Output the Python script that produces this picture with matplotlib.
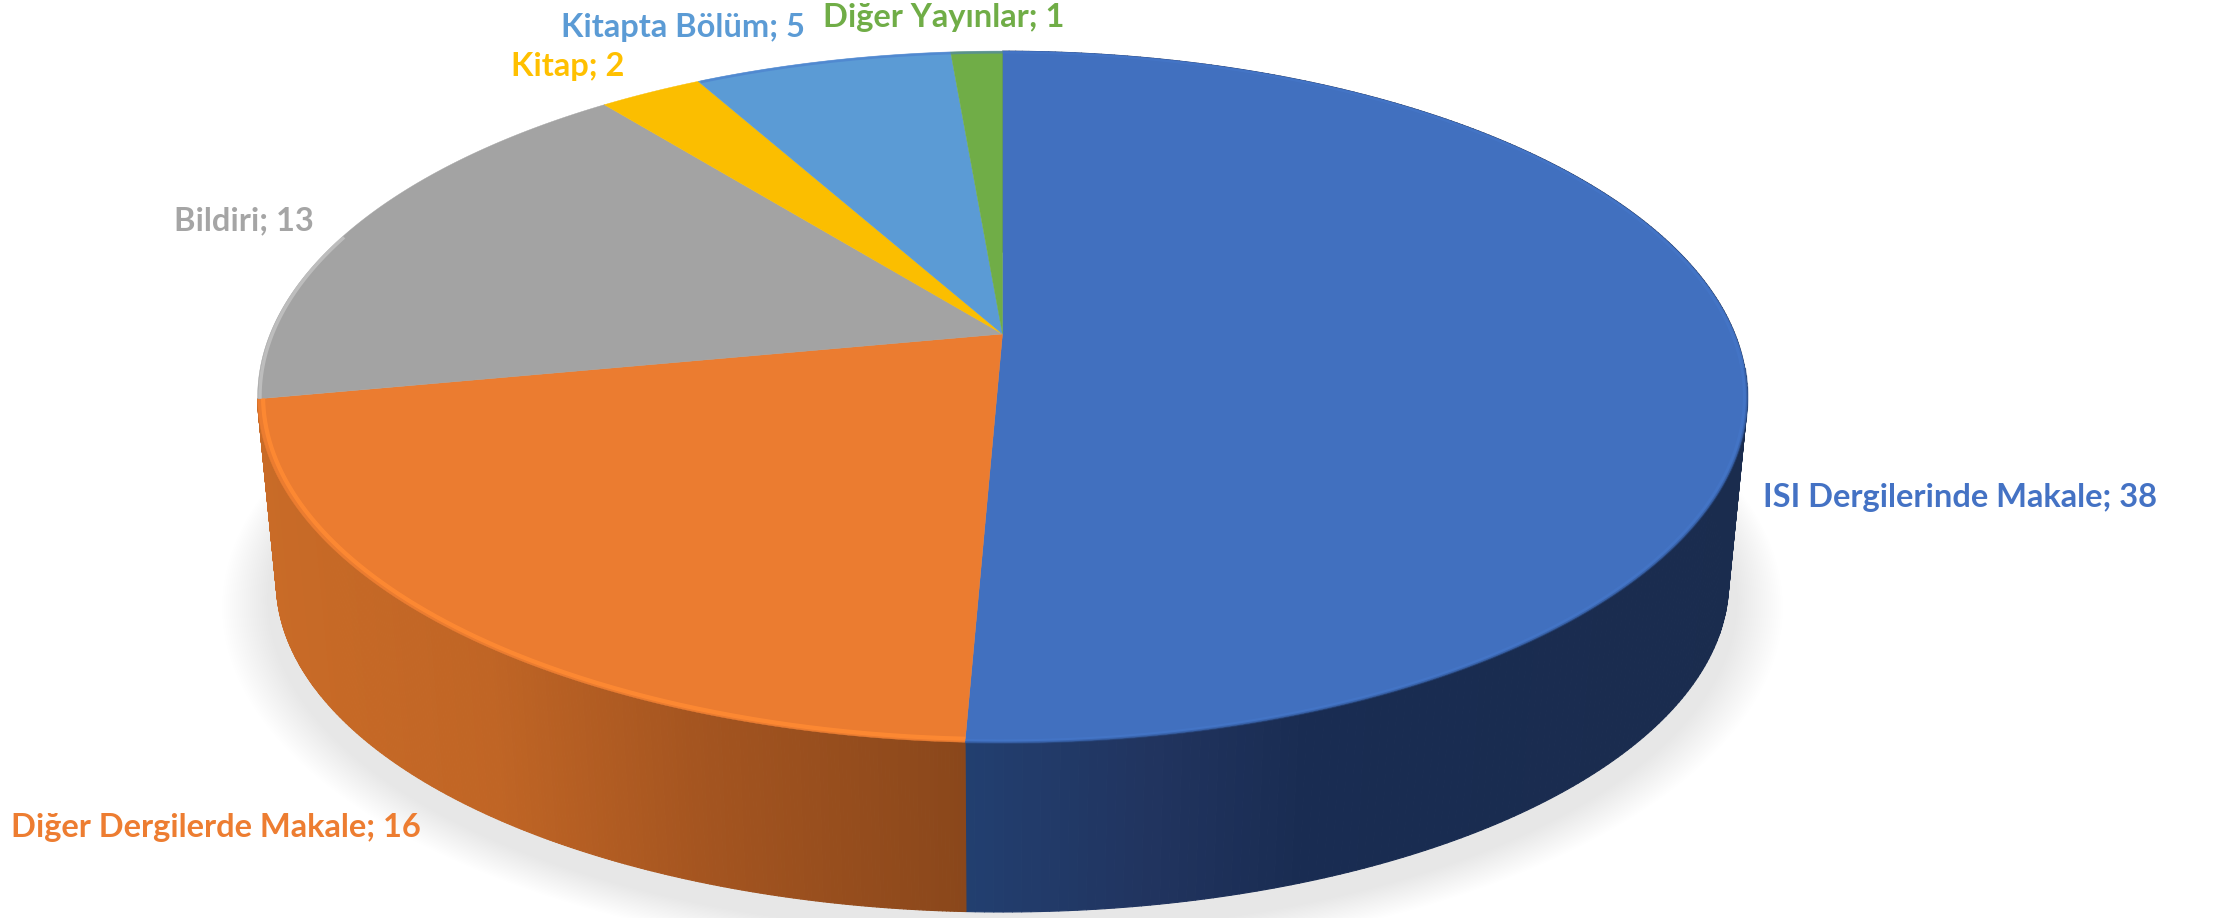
import numpy as np
import matplotlib
matplotlib.use('Agg')
import matplotlib.pyplot as plt
from matplotlib.collections import PolyCollection
from matplotlib.colors import to_rgb

# Publication counts, clockwise from 12 o'clock
categories = ['ISI Dergilerinde Makale', 'Diğer Dergilerde Makale', 'Bildiri',
              'Kitap', 'Kitapta Bölüm', 'Diğer Yayınlar']
values = [38, 16, 13, 2, 5, 1]
colors = ['#4170BF', '#EB7C30', '#A3A3A3', '#FBBE00', '#5B9BD5', '#70AD47']
text_colors = ['#4472C4', '#ED7D31', '#A5A5A5', '#FFC000', '#5B9BD5', '#70AD47']

# Left end and baseline of each label, in pixels
label_x = [1763, 11, 174, 511, 561, 823]
label_y = [507, 837, 230, 76, 37, 27]

# Perspective of the pie's top and bottom faces
CX = 1002.5
K = 0.182
TOP = dict(a=732.4, b=273.5, c=334.0)
BOTTOM = dict(a=714.0, b=224.0, c=522.0)


def project(theta, face, r=1.0):
    # theta in radians, clockwise from the top of the pie
    X = r * np.sin(theta)
    Y = r * np.cos(theta)
    d = 1 + K * Y
    return CX + face['a'] * X / d, (face['c'] - face['b'] * Y) / d


def wall_colors(xs, anchors):
    pos = [a[0] for a in anchors]
    rgb = np.array([to_rgb(a[1]) for a in anchors])
    return np.column_stack([np.interp(xs, pos, rgb[:, i]) for i in range(3)])


fig = plt.figure(figsize=(22.17, 9.18), dpi=100)
ax = fig.add_axes([0, 0, 1, 1])
ax.set_xlim(0, 2217)
ax.set_ylim(918, 0)
ax.axis('off')

# Soft shadow under the pie
t = np.linspace(0, 2 * np.pi, 400)
for i in range(24):
    grow = 1.072 - 0.060 * i / 23
    sx, sy = project(t, BOTTOM, grow)
    ax.fill(sx, sy + 16, color='black', alpha=0.0048, lw=0, zorder=1)

fractions = np.array(values) / sum(values)
edges = np.concatenate([[0], np.cumsum(fractions)]) * 2 * np.pi

# Side walls, only the two big slices show from the front
wall_anchors = {
    0: [(965, '#223F70'), (1150, '#21345F'), (1300, '#192C52'), (1746, '#1A2C4E')],
    1: [(275, '#C96B27'), (500, '#C06525'), (700, '#A55520'), (965, '#8A471B')],
}
for i, anchors in wall_anchors.items():
    th = np.linspace(edges[i], edges[i + 1], 300)
    x1, y1 = project(th, TOP)
    x2, y2 = project(th, BOTTOM)
    quads = [[(x1[j], y1[j]), (x1[j + 1], y1[j + 1]), (x2[j + 1], y2[j + 1]), (x2[j], y2[j])]
             for j in range(len(th) - 1)]
    cols = wall_colors((x2[:-1] + x2[1:]) / 2, anchors)
    ax.add_collection(PolyCollection(quads, facecolors=cols, edgecolors=cols, linewidths=0.8, zorder=2))

# Top face
apex = (CX, TOP['c'])
for i, col in enumerate(colors):
    th = np.linspace(edges[i], edges[i + 1], 300)
    x, y = project(th, TOP)
    ax.fill(np.r_[apex[0], x], np.r_[apex[1], y], color=col, lw=0.3, zorder=3)

# Bevel along the front rim
th = np.linspace(edges[1], edges[2], 300)
x, y = project(th, TOP, 0.993)
ax.plot(x, y, color='#FF8A33', lw=3.0, alpha=0.9, zorder=4, solid_capstyle='butt')
th = np.linspace(edges[0] - 0.5, edges[1], 200)
x, y = project(th, TOP, 0.996)
ax.plot(x, y, color='#4678CC', lw=2.0, alpha=0.5, zorder=4, solid_capstyle='butt')
th = np.linspace(np.pi / 2 + 0.1, edges[1], 300)
x, y = project(th, TOP, 1.0)
ax.plot(x, y, color='#2F5596', lw=1.8, alpha=0.45, zorder=4, solid_capstyle='butt')
th = np.linspace(edges[2], edges[2] + 0.5, 100)
x, y = project(th, TOP, 0.997)
ax.plot(x, y, color='#C4C4C4', lw=2.5, alpha=0.8, zorder=4, solid_capstyle='butt')

# Labels
for name, val, col, lx, ly in zip(categories, values, text_colors, label_x, label_y):
    ax.text(lx, ly, f'{name}; {val}', color=col, fontsize=23.5, fontweight='bold',
            family='Lato', ha='left', va='baseline', zorder=5)

fig.savefig('out.png', dpi=100, facecolor='white')
